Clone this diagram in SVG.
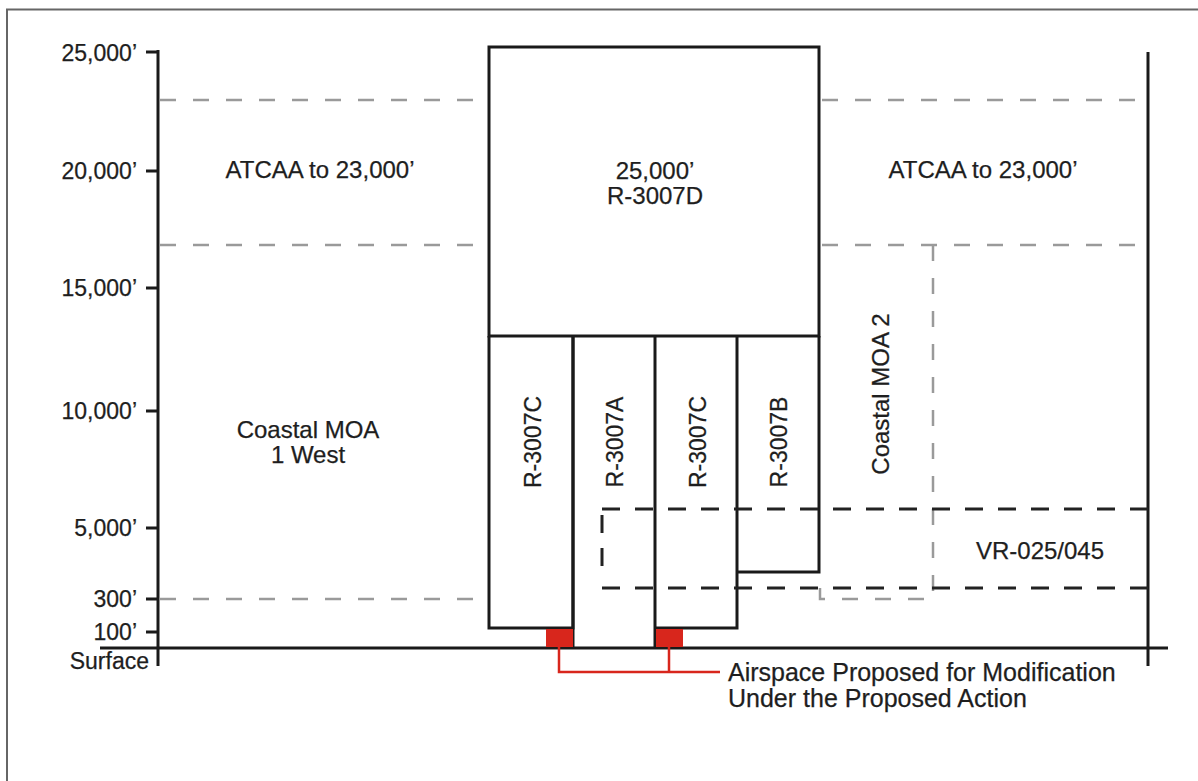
<svg xmlns="http://www.w3.org/2000/svg" width="1198" height="781" viewBox="0 0 1198 781">
<style>
text{font-family:"Liberation Sans",Arial,sans-serif;font-size:24px;fill:#1e1e1e;stroke:#1e1e1e;stroke-width:0.25}
.lbl{text-anchor:end;font-size:23px}
.mid{text-anchor:middle}
.rot{font-size:23px}
.big{font-size:25px}
.box{fill:none;stroke:#1a1a1a;stroke-width:3}
.ax{stroke:#1a1a1a;stroke-width:3;fill:none}
.gd{stroke:#9a9a9a;stroke-width:2.5;stroke-dasharray:16 17;fill:none}
.bd{stroke:#222;stroke-width:3;stroke-dasharray:18 15;fill:none}
.red{stroke:#d8261c;stroke-width:2.5;fill:none}
</style>
<rect width="1198" height="781" fill="#fff"/>
<path d="M7,781 V9.5 H1198" stroke="#666" stroke-width="2" fill="none"/>
<g id="axis">
<path class="ax" d="M158,50 V666 M100,648 H1168 M1148,52 V666"/>
<path class="ax" d="M146,52 H158 M146,171 H158 M146,288 H158 M146,411 H158 M146,528 H158 M146,599 H158 M146,632 H158"/>
<text class="lbl" x="137" y="61">25,000’</text>
<text class="lbl" x="137" y="179">20,000’</text>
<text class="lbl" x="137" y="296">15,000’</text>
<text class="lbl" x="137" y="419">10,000’</text>
<text class="lbl" x="137" y="536">5,000’</text>
<text class="lbl" x="137" y="607">300’</text>
<text class="lbl" x="137" y="640">100’</text>
<text class="lbl" x="149" y="669">Surface</text>
</g>
<g id="atcaa-west">
<path class="gd" d="M160,100 H478 M160,245 H478"/>
<text class="mid" x="320" y="178">ATCAA to 23,000’</text>
</g>
<g id="atcaa-east">
<path class="gd" d="M822,100 H1140 M822,245 H1140"/>
<text class="mid" x="983" y="178">ATCAA to 23,000’</text>
</g>
<g id="coastal-moa-1-west">
<path class="gd" d="M160,599 H478"/>
<text class="mid" x="308" y="438">Coastal MOA<tspan x="308" y="463">1 West</tspan></text>
</g>
<g id="coastal-moa-2">
<path class="gd" d="M820,588 V599 H933 V245"/>
<text class="mid" transform="translate(889,394) rotate(-90)">Coastal MOA 2</text>
</g>
<g id="r-3007d">
<rect class="box" x="489" y="47" width="330" height="289"/>
<text class="mid" x="655" y="179">25,000’<tspan x="655" y="204">R-3007D</tspan></text>
</g>
<g id="r-3007c-west">
<path class="box" d="M489,336 V628 H573 V336"/>
<text class="mid rot" transform="translate(541,442) rotate(-90)">R-3007C</text>
</g>
<g id="r-3007a">
<path class="box" d="M573,336 V648 M655,336 V648"/>
<text class="mid rot" transform="translate(623,442) rotate(-90)">R-3007A</text>
</g>
<g id="r-3007c-east">
<path class="box" d="M655,628 H737 V336"/>
<text class="mid rot" transform="translate(706,442) rotate(-90)">R-3007C</text>
</g>
<g id="r-3007b">
<path class="box" d="M737,572 H819 V336"/>
<text class="mid rot" transform="translate(787,442) rotate(-90)">R-3007B</text>
</g>
<g id="vr-025-045">
<path class="bd" d="M602,509 H1148 M602,588 H1148"/>
<path class="bd" d="M602,515 V572" stroke-dasharray="18 20"/>
<text class="mid" x="1040" y="559">VR-025/045</text>
</g>
<g id="proposed-areas">
<rect x="546" y="629" width="27" height="18" fill="#d8261c"/>
<rect x="656" y="629" width="27" height="18" fill="#d8261c"/>
</g>
<g id="connectors">
<path class="red" d="M559,647 V672 H720 M669,647 V672"/>
</g>
<g id="legend">
<text class="big" x="728" y="681">Airspace Proposed for Modification<tspan x="728" y="707">Under the Proposed Action</tspan></text>
</g>
</svg>
